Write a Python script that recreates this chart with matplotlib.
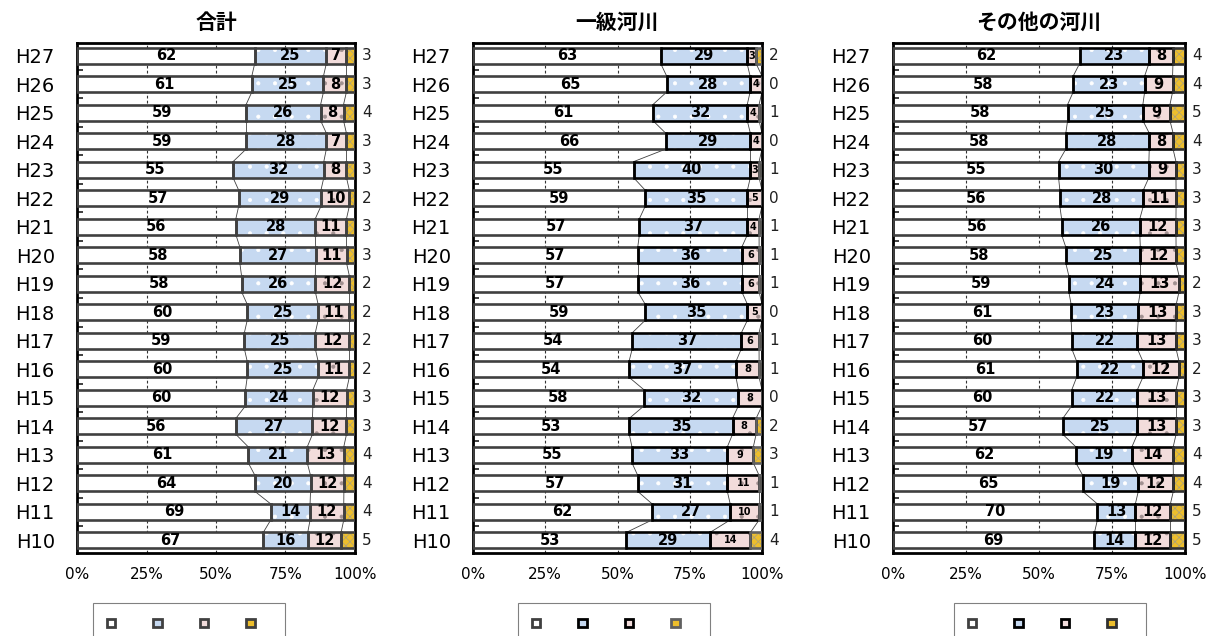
import numpy as np
import matplotlib
matplotlib.use("Agg")
import matplotlib.pyplot as plt
from matplotlib.patches import Patch

plt.rcParams['font.family'] = ['DejaVu Sans', 'Noto Sans CJK JP']
plt.rcParams['hatch.linewidth'] = 0.5

years = ["H27", "H26", "H25", "H24", "H23", "H22", "H21", "H20", "H19",
         "H18", "H17", "H16", "H15", "H14", "H13", "H12", "H11", "H10"]

titles = ["合計", "一級河川", "その他の河川"]

# series values per panel (top row H27 ... bottom row H10)
total_s1 = [62, 61, 59, 59, 55, 57, 56, 58, 58, 60, 59, 60, 60, 56, 61, 64, 69, 67]
total_s2 = [25, 25, 26, 28, 32, 29, 28, 27, 26, 25, 25, 25, 24, 27, 21, 20, 14, 16]
total_s3 = [7, 8, 8, 7, 8, 10, 11, 11, 12, 11, 12, 11, 12, 12, 13, 12, 12, 12]
total_s4 = [3, 3, 4, 3, 3, 2, 3, 3, 2, 2, 2, 2, 3, 3, 4, 4, 4, 5]

class1_s1 = [63, 65, 61, 66, 55, 59, 57, 57, 57, 59, 54, 54, 58, 53, 55, 57, 62, 53]
class1_s2 = [29, 28, 32, 29, 40, 35, 37, 36, 36, 35, 37, 37, 32, 35, 33, 31, 27, 29]
class1_s3 = [3, 4, 4, 4, 3, 5, 4, 6, 6, 5, 6, 8, 8, 8, 9, 11, 10, 14]
class1_s4 = [2, 0, 1, 0, 1, 0, 1, 1, 1, 0, 1, 1, 0, 2, 3, 1, 1, 4]

other_s1 = [62, 58, 58, 58, 55, 56, 56, 58, 59, 61, 60, 61, 60, 57, 62, 65, 70, 69]
other_s2 = [23, 23, 25, 28, 30, 28, 26, 25, 24, 23, 22, 22, 22, 25, 19, 19, 13, 14]
other_s3 = [8, 9, 9, 8, 9, 11, 12, 12, 13, 13, 13, 12, 13, 13, 14, 12, 12, 12]
other_s4 = [4, 4, 5, 4, 3, 3, 3, 3, 2, 3, 3, 2, 3, 3, 4, 4, 5, 5]

xtick_labels = ["0%", "25%", "50%", "75%", "100%"]

panels = [
    (total_s1, total_s2, total_s3, total_s4),
    (class1_s1, class1_s2, class1_s3, class1_s4),
    (other_s1, other_s2, other_s3, other_s4),
]

W, H = 1211, 636
fig = plt.figure(figsize=(W / 100, H / 100), dpi=100)

axes_px = [(77, 355), (473, 762), (893, 1185)]
top_px, bot_px = 43, 553

faces = ["#FFFFFF", "#C6D9F1", "#F2DCDB", "#EDBE2C"]
hatches = [None, ".", ".", "xxxx"]
hatch_cols = [None, "#FFFFFF", "#A09090", "#A8A080"]
edge_sets = [
    ["#404040", "#404040", "#404040", "#404040"],
    ["#404040", "#000000", "#000000", "#606060"],
    ["#404040", "#000000", "#000000", "#303030"],
]
s3_fontsizes = [10.5, 7, 10.5]
legend_px = [(86, 284), (511, 710), (947, 1146)]

bar_h = 0.56
n = len(years)
ypos = np.arange(n)[::-1]  # H27 at top

for pi, (vals, title) in enumerate(zip(panels, titles)):
    l, r = axes_px[pi]
    ax = fig.add_axes([l / W, 1 - bot_px / H, (r - l) / W, (bot_px - top_px) / H])
    arr = np.array(vals, dtype=float)  # shape 4 x n
    frac = arr / arr.sum(axis=0)
    cum = np.cumsum(frac, axis=0)
    left = np.vstack([np.zeros(n), cum[:-1]])
    edges = edge_sets[pi]
    for si in range(4):
        ax.barh(ypos, frac[si], left=left[si], height=bar_h, color=faces[si],
                edgecolor=hatch_cols[si] if hatches[si] else faces[si],
                linewidth=0, hatch=hatches[si], zorder=2)
        ax.barh(ypos, frac[si], left=left[si], height=bar_h, fill=False,
                edgecolor=edges[si], linewidth=1.9, zorder=3)
    # series lines
    for si in range(3):
        for i in range(n - 1):
            ax.plot([cum[si][i], cum[si][i + 1]],
                    [ypos[i] - bar_h / 2, ypos[i + 1] + bar_h / 2],
                    color="#404040", lw=0.6, zorder=2.5)
    # labels
    for i in range(n):
        for si in range(3):
            fs = s3_fontsizes[pi] if si == 2 else 10.5
            ax.text(left[si][i] + frac[si][i] / 2, ypos[i], str(vals[si][i]),
                    ha="center", va="center", fontsize=fs, fontweight="bold",
                    color="black", zorder=4)
        ax.annotate(str(vals[3][i]), xy=(1.0, ypos[i]),
                    xycoords=("axes fraction", "data"), xytext=(5, 0),
                    textcoords="offset points", ha="left", va="center",
                    fontsize=11, color="#202020", annotation_clip=False)
    ax.set_xlim(0, 1)
    ax.set_ylim(-0.44, n - 1 + 0.44)
    ax.set_xticks([0, 0.25, 0.5, 0.75, 1.0])
    ax.set_xticklabels(xtick_labels, fontsize=11)
    ax.set_yticks(ypos)
    ax.set_yticklabels(years, fontsize=14)
    ax.set_yticks(np.arange(n - 1) + 0.5, minor=True)
    ax.tick_params(axis="x", length=0, pad=10)
    ax.tick_params(axis="y", which="major", length=0, pad=16)
    ax.tick_params(axis="y", which="minor", direction="in", length=4,
                   width=1.3, color="#303030")
    ax.grid(axis="x", linestyle=(0, (2.5, 2)), color="#333333", lw=0.8, zorder=0)
    ax.set_axisbelow(True)
    for sp in ax.spines.values():
        sp.set_linewidth(2)
        sp.set_color("black")
    ax.set_title(title, fontsize=15, fontweight="bold", pad=10,
                 family=["Noto Sans CJK JP", "DejaVu Sans"])

    # legend (no text labels)
    handles = [Patch(facecolor=faces[k], edgecolor=edges[k] if k > 0 else "#404040",
                     linewidth=2) for k in range(4)]
    lx0, lx1 = legend_px[pi]
    leg = fig.legend(handles, ["", "", "", ""], ncol=4, loc="upper left",
                     bbox_to_anchor=(lx0 / W, 1 - 596 / H),
                     fontsize=10, handlelength=0.6, handleheight=0.6,
                     handletextpad=1.15, columnspacing=1.6, borderpad=1.0,
                     frameon=True, fancybox=False, framealpha=1)
    leg.get_frame().set_edgecolor("#808080")
    leg.get_frame().set_linewidth(0.8)

fig.savefig("out.png", dpi=100)
